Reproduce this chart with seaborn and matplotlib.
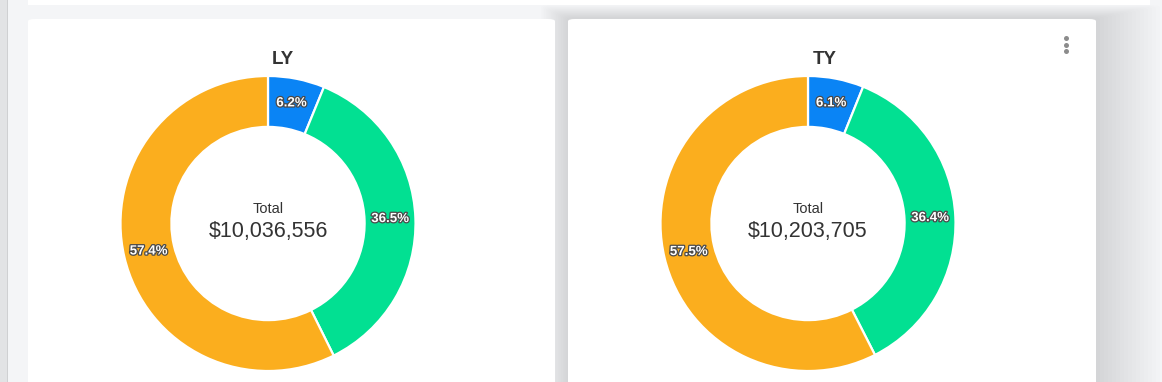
import numpy as np
import pandas as pd
import seaborn as sns
import matplotlib
matplotlib.use("Agg")
import matplotlib.pyplot as plt
from matplotlib.patches import FancyBboxPatch, Rectangle
from matplotlib.lines import Line2D
import matplotlib.patheffects as pe

# ---- data ----
periods = ["LY", "TY"]
segments = ["Segment A", "Segment B", "Segment C"]
ly_shares = [6.2, 36.5, 57.4]
ty_shares = [6.1, 36.4, 57.5]
totals = ["$10,036,556", "$10,203,705"]
center_caption = "Total"
seg_colors = ["#0a84f5", "#02e092", "#fbae1e"]

sns.set_theme(style="white")
plt.rcParams['font.family'] = ['Liberation Sans', 'DejaVu Sans']

W, H = 1162, 382
fig = plt.figure(figsize=(W / 100, H / 100), dpi=100)
fig.patch.set_facecolor("#f4f5f7")

def add_bg(p):
    p.set_zorder(-10)
    fig.add_artist(p)

def px_rect(x0, y0, x1, y1, **kw):
    return Rectangle((x0 / W, 1 - y1 / H), (x1 - x0) / W, (y1 - y0) / H,
                     transform=fig.transFigure, **kw)

def px_card(x0, y0, x1, y1, **kw):
    return FancyBboxPatch((x0 / W, 1 - y1 / H), (x1 - x0) / W, (y1 - y0) / H,
                          boxstyle="round,pad=0,rounding_size=0.006",
                          transform=fig.transFigure, **kw)

# left grey strip
add_bg(px_rect(0, 0, 7, H, facecolor="#e2e3e5", edgecolor="none"))
add_bg(px_rect(7, 0, 8, H, facecolor="#cfd0d2", edgecolor="none"))
# top white bar
add_bg(px_rect(28, -10, 1150, 5, facecolor="#ffffff", edgecolor="none"))

# shadow for the right card
for i in range(16, 0, -1):
    add_bg(px_card(568 - 1.7 * i, 18 - 0.8 * i, 1096 + 4 * i, H + 20,
                   facecolor="#000000", edgecolor="none", alpha=0.009))

# cards
add_bg(px_card(28, 19, 555, H + 20, facecolor="#ffffff", edgecolor="none"))
add_bg(px_card(568, 19, 1096, H + 20, facecolor="#ffffff", edgecolor="none"))

# menu dots
fig.add_artist(Line2D([1066 / W] * 3, [1 - 38 / H, 1 - 44.5 / H, 1 - 51 / H],
                      transform=fig.transFigure, linestyle="none", marker="o",
                      markersize=3.6, markerfacecolor="#8c8c8c", markeredgewidth=0))

centers = [(268, 223.5), (808, 223.5)]
title_x = [283, 825]
R = 147.5
all_shares = [ly_shares, ty_shares]

for k, (cx, cy) in enumerate(centers):
    ax = fig.add_axes([(cx - R) / W, (H - cy - R) / H, 2 * R / W, 2 * R / H])
    shares = all_shares[k]
    df = pd.DataFrame({"segment": segments, "share": shares})
    wedges, _ = ax.pie(df["share"], colors=seg_colors, startangle=90, counterclock=False,
                       radius=1.0, wedgeprops=dict(width=0.345, edgecolor="white", linewidth=1.6))
    ax.set_xlim(-1, 1)
    ax.set_ylim(-1, 1)
    ax.axis("off")
    for w in wedges:
        w.set_clip_on(False)
    cum = np.cumsum([0] + list(df["share"]))
    tot = cum[-1]
    for i, v in enumerate(df["share"]):
        mid = (cum[i] + cum[i + 1]) / 2 / tot
        ang = np.deg2rad(90 - 360 * mid)
        rr = 0.83
        ax.text(rr * np.cos(ang), rr * np.sin(ang), f"{v:.1f}%", ha="center", va="center",
                color="white", fontsize=9.6, fontweight="bold",
                path_effects=[pe.withStroke(linewidth=1.8, foreground="#4a4a4a")])
    fig.text(cx / W, 1 - 209 / H, center_caption, ha="center", va="center",
             fontsize=10.5, color="#333333")
    fig.text(cx / W, 1 - 231.5 / H, totals[k], ha="center", va="center",
             fontsize=15.5, color="#333333")
    fig.text(title_x[k] / W, 1 - 60 / H, periods[k], ha="center", va="center",
             fontsize=13.5, fontweight="bold", color="#333333")

fig.savefig("out.png", dpi=100, facecolor=fig.get_facecolor())
